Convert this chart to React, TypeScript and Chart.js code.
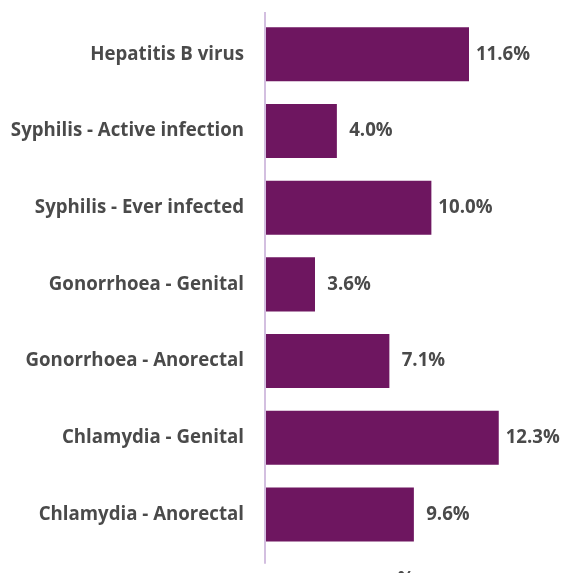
import React, { useEffect, useRef } from "react";
import { Chart, registerables } from "chart.js";

Chart.register(...registerables);

const categories = [
  "Hepatitis B virus",
  "Syphilis - Active infection",
  "Syphilis - Ever infected",
  "Gonorrhoea - Genital",
  "Gonorrhoea - Anorectal",
  "Chlamydia - Genital",
  "Chlamydia - Anorectal",
];
// bar lengths (on the chart's % axis)
const barValues = [11.6, 4.05, 9.45, 2.8, 7.05, 13.3, 8.45];
// value labels printed beside the bars
const valueLabels = ["11.6%", "4.0%", "10.0%", "3.6%", "7.1%", "12.3%", "9.6%"];
const xAxisTitle = "%";
const xMin = 0;
const xMax = 16;

const BAR_COLOR = "#6e1660";
const TEXT_COLOR = "#4a4a4a";
const AXIS_COLOR = "#d3bfe0";
const FONT_FAMILY = "'Open Sans', sans-serif";
const FONT_SIZE = 18.67;

const axisLinePlugin = {
  id: "axisLine",
  beforeDatasetsDraw(chart: any) {
    const { ctx, chartArea, scales } = chart;
    const x = scales.x.getPixelForValue(xMin) - 1;
    ctx.save();
    ctx.strokeStyle = AXIS_COLOR;
    ctx.lineWidth = 2;
    ctx.beginPath();
    ctx.moveTo(x, chartArea.top - 4);
    ctx.lineTo(x, chartArea.bottom + 11);
    ctx.stroke();
    ctx.restore();
  },
};

const valueLabelPlugin = {
  id: "valueLabels",
  afterDatasetsDraw(chart: any) {
    const { ctx } = chart;
    const meta = chart.getDatasetMeta(0);
    ctx.save();
    ctx.fillStyle = TEXT_COLOR;
    ctx.font = `bold ${FONT_SIZE}px ${FONT_FAMILY}`;
    ctx.textAlign = "center";
    ctx.textBaseline = "middle";
    meta.data.forEach((el: any, i: number) => {
      ctx.fillText(valueLabels[i], el.x + 34, el.y);
    });
    ctx.restore();
  },
};

export default function App() {
  const canvasRef = useRef<HTMLCanvasElement | null>(null);

  useEffect(() => {
    if (!canvasRef.current) return;
    const chart = new Chart(canvasRef.current, {
      type: "bar",
      data: {
        labels: categories,
        datasets: [
          {
            data: barValues,
            backgroundColor: BAR_COLOR,
            borderWidth: 0,
            categoryPercentage: 1,
            barPercentage: 0.705,
          },
        ],
      },
      options: {
        indexAxis: "y",
        responsive: true,
        maintainAspectRatio: false,
        animation: false,
        layout: { padding: { top: 8, right: 18, bottom: 19, left: 0 } },
        plugins: {
          legend: { display: false },
          tooltip: { enabled: false },
        },
        scales: {
          x: {
            min: xMin,
            max: xMax,
            grid: { display: false, drawTicks: false },
            border: { display: false },
            ticks: { display: false },
            title: {
              display: true,
              text: xAxisTitle,
              color: TEXT_COLOR,
              font: { family: FONT_FAMILY, size: FONT_SIZE, weight: "bold" },
              padding: { top: 15.8, bottom: -2 },
            },
          },
          y: {
            grid: { display: false, drawTicks: false },
            border: { display: false },
            ticks: {
              color: TEXT_COLOR,
              font: { family: FONT_FAMILY, size: FONT_SIZE, weight: "bold" },
              padding: 22,
            },
            afterFit: (scale: any) => {
              scale.width = 258;
              scale.paddingTop = 0;
              scale.paddingBottom = 0;
            },
          },
        },
      },
      plugins: [axisLinePlugin, valueLabelPlugin],
    });
    return () => chart.destroy();
  }, []);

  return (
    <div style={{ height: 573, marginBottom: -8, overflow: "hidden" }}>
      <div style={{ position: "relative", height: 600 }}>
        <canvas ref={canvasRef} />
      </div>
    </div>
  );
}
